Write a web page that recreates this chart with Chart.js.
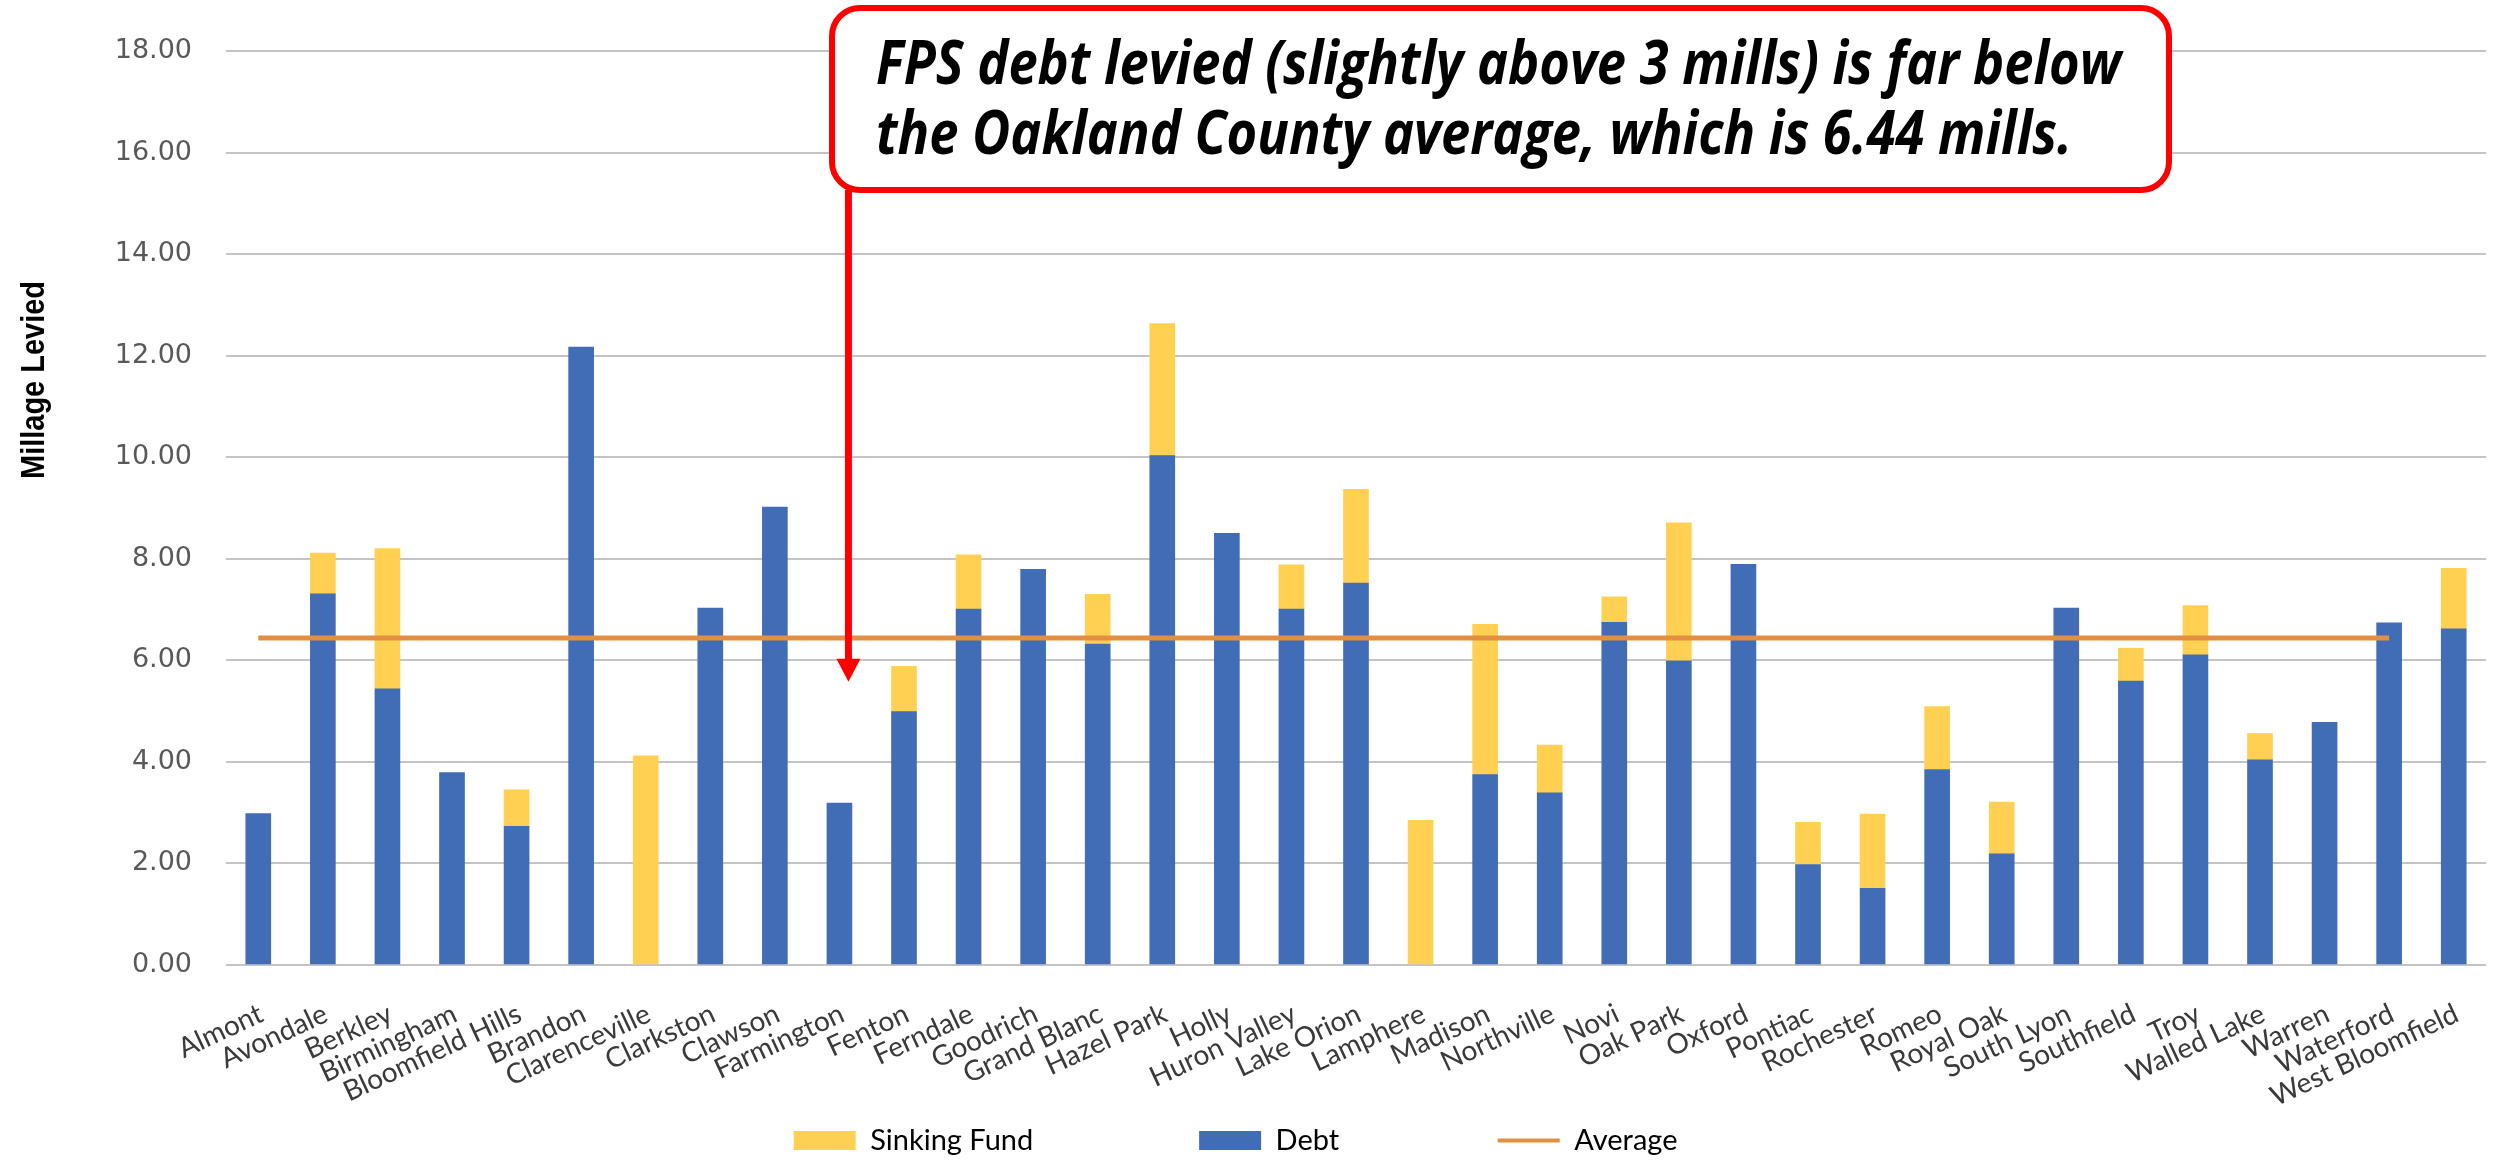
<!DOCTYPE html>
<html>
<head>
<meta charset="utf-8">
<title>Millage Levied</title>
<script src="https://cdn.jsdelivr.net/npm/chart.js@4.4.1/dist/chart.umd.min.js"></script>
<style>
  html, body { margin: 0; padding: 0; background: #ffffff; }
  #wrap { width: 2497px; height: 1165px; }
</style>
</head>
<body>
<div id="wrap"><canvas id="millageChart" width="2497" height="1165"></canvas></div>
<script>
// districts along the x axis
var districts = ["Almont", "Avondale", "Berkley", "Birmingham", "Bloomfield Hills", "Brandon",
    "Clarenceville", "Clarkston", "Clawson", "Farmington", "Fenton", "Ferndale", "Goodrich",
    "Grand Blanc", "Hazel Park", "Holly", "Huron Valley", "Lake Orion", "Lamphere", "Madison",
    "Northville", "Novi", "Oak Park", "Oxford", "Pontiac", "Rochester", "Romeo", "Royal Oak",
    "South Lyon", "Southfield", "Troy", "Walled Lake", "Warren", "Waterford", "West Bloomfield"];

// mills
var debt = [2.98, 7.31, 5.44, 3.79, 2.73, 12.17, null, 7.03, 9.02, 3.19, 4.99, 7.01, 7.79,
    6.32, 10.03, 8.50, 7.01, 7.52, null, 3.75, 3.39, 6.75, 5.99, 7.89, 1.98, 1.51, 3.85, 2.19,
    7.03, 5.59, 6.11, 4.04, 4.78, 6.74, 6.62];
var sinkingFund = [null, 0.80, 2.76, null, 0.72, null, 4.12, null, null, null, 0.89, 1.07, null,
    0.98, 2.60, null, 0.87, 1.85, 2.85, 2.96, 0.94, 0.50, 2.72, null, 0.83, 1.46, 1.24, 1.02,
    null, 0.65, 0.97, 0.52, null, null, 1.19];
var average = [6.44, 6.44, 6.44, 6.44, 6.44, 6.44, 6.44, 6.44, 6.44, 6.44, 6.44, 6.44, 6.44,
    6.44, 6.44, 6.44, 6.44, 6.44, 6.44, 6.44, 6.44, 6.44, 6.44, 6.44, 6.44, 6.44, 6.44, 6.44,
    6.44, 6.44, 6.44, 6.44, 6.44, 6.44, null];

var yTickValues = [0, 2, 4, 6, 8, 10, 12, 14, 16, 18];

var blue = '#416db6';
var yellow = '#ffd052';
var orange = '#e38f41';

var calloutLines = ["FPS debt levied (slightly above 3 mills) is far below",
    "the Oakland County average, which is 6.44 mills."];

// y title and the red callout box with its arrow
var extrasPlugin = {
    id: 'extras',
    afterDraw: function (chart) {
        var ctx = chart.ctx;
        var xs = chart.scales.x, ys = chart.scales.y;

        // axis title
        ctx.save();
        ctx.translate(35, 380);
        ctx.rotate(-Math.PI / 2);
        ctx.font = 'bold 34px "Liberation Sans"';
        var tw = ctx.measureText('Millage Levied').width;
        ctx.scale(198 / tw, 1);
        ctx.fillStyle = '#000000';
        ctx.textAlign = 'center';
        ctx.textBaseline = 'middle';
        ctx.fillText('Millage Levied', 0, 0);
        ctx.restore();

        // arrow to Farmington
        var ax = xs.getPixelForValue(9) + 9;
        var tipY = ys.getPixelForValue(5.58);
        var boxL = 832, boxT = 8, boxR = 2169, boxB = 190, r = 28;
        ctx.save();
        ctx.strokeStyle = '#ff0000';
        ctx.fillStyle = '#ff0000';
        ctx.lineWidth = 7;
        ctx.beginPath();
        ctx.moveTo(ax, boxB);
        ctx.lineTo(ax, tipY - 20);
        ctx.stroke();
        ctx.beginPath();
        ctx.moveTo(ax - 12, tipY - 23);
        ctx.lineTo(ax + 12, tipY - 23);
        ctx.lineTo(ax, tipY);
        ctx.closePath();
        ctx.fill();

        // box
        ctx.beginPath();
        ctx.moveTo(boxL + r, boxT);
        ctx.lineTo(boxR - r, boxT);
        ctx.arcTo(boxR, boxT, boxR, boxT + r, r);
        ctx.lineTo(boxR, boxB - r);
        ctx.arcTo(boxR, boxB, boxR - r, boxB, r);
        ctx.lineTo(boxL + r, boxB);
        ctx.arcTo(boxL, boxB, boxL, boxB - r, r);
        ctx.lineTo(boxL, boxT + r);
        ctx.arcTo(boxL, boxT, boxL + r, boxT, r);
        ctx.closePath();
        ctx.fillStyle = '#ffffff';
        ctx.fill();
        ctx.lineWidth = 6;
        ctx.stroke();

        // text
        ctx.font = 'italic bold 60px "Open Sans"';
        var sx = 1245 / ctx.measureText(calloutLines[0]).width;
        ctx.fillStyle = '#000000';
        ctx.textAlign = 'left';
        ctx.textBaseline = 'alphabetic';
        ctx.save();
        ctx.translate(876, 84);
        ctx.scale(sx, 1);
        ctx.fillText(calloutLines[0], 0, 0);
        ctx.restore();
        ctx.save();
        ctx.translate(876, 154);
        ctx.scale(sx, 1);
        ctx.fillText(calloutLines[1], 0, 0);
        ctx.restore();
        ctx.restore();
    }
};

var legendFontSize = 29;

// category label size so that "West Bloomfield" runs about 205px, as in the picture
var probe = document.createElement('canvas').getContext('2d');
probe.font = '26px Lato';
var labelFontSize = Math.round(26 * 205 / probe.measureText('West Bloomfield').width * 2) / 2;

var ctxM = document.getElementById('millageChart');
var millageChart = new Chart(ctxM, {
    type: 'bar',
    data: {
        labels: districts,
        datasets: [{
                type: 'line',
                label: 'Average',
                data: average,
                borderColor: orange,
                backgroundColor: orange,
                borderWidth: 5,
                pointRadius: 0,
                stack: 'avg',
                fill: false
            },
            {
                label: 'Debt',
                data: debt,
                backgroundColor: blue,
                stack: 'levy',
                barThickness: 25
            },
            {
                label: 'Sinking Fund',
                data: sinkingFund,
                backgroundColor: yellow,
                stack: 'levy',
                barThickness: 25
            }
        ]
    },
    options: {
        responsive: false,
        devicePixelRatio: 1,
        animation: false,
        layout: {
            padding: { left: 0, right: 11, top: 51, bottom: 0 }
        },
        scales: {
            x: {
                stacked: true,
                grid: { display: false },
                border: { display: false },
                ticks: {
                    autoSkip: false,
                    minRotation: 25,
                    maxRotation: 25,
                    padding: 24,
                    labelOffset: 3,
                    color: '#3a3a3a',
                    font: { family: 'Lato', size: labelFontSize }
                },
                afterFit: function (scale) { scale.height = 151; }
            },
            y: {
                stacked: true,
                min: 0,
                max: 18,
                afterBuildTicks: function (scale) {
                    scale.ticks = yTickValues.map(function (v) { return { value: v }; });
                },
                grid: { color: '#c4c4c4', lineWidth: 2, drawTicks: false },
                border: { display: false },
                ticks: {
                    padding: 34,
                    color: '#595959',
                    font: { family: 'DejaVu Sans', size: 27 },
                    callback: function (v) { return Number(v).toFixed(2); }
                },
                afterFit: function (scale) { scale.width = 226; }
            }
        },
        plugins: {
            tooltip: { enabled: false },
            legend: {
                position: 'bottom',
                labels: {
                    usePointStyle: true,
                    pointStyleWidth: 62,
                    boxHeight: 19,
                    padding: 10,
                    color: '#262626',
                    font: { family: 'Lato', size: legendFontSize },
                    generateLabels: function (chart) {
                        var c = chart.ctx;
                        c.save();
                        c.font = legendFontSize + 'px Lato';
                        var sp = c.measureText(' ').width;
                        // trailing spaces so each entry takes the pitch seen in the picture
                        function pad(text, pitch) {
                            var used = 62 + legendFontSize / 2 + c.measureText(text).width + 10;
                            return text + ' '.repeat(Math.max(0, Math.round((pitch - used) / sp)));
                        }
                        var items = [
                            { text: pad('Sinking Fund', 407), fillStyle: yellow, strokeStyle: yellow, lineWidth: 0, pointStyle: 'rect', datasetIndex: 2, hidden: false },
                            { text: pad('Debt', 296), fillStyle: blue, strokeStyle: blue, lineWidth: 0, pointStyle: 'rect', datasetIndex: 1, hidden: false },
                            { text: 'Average' + ' '.repeat(Math.round(16 / sp)), fillStyle: orange, strokeStyle: orange, lineWidth: 4, pointStyle: 'line', datasetIndex: 0, hidden: false }
                        ];
                        c.restore();
                        return items;
                    }
                }
            }
        }
    },
    plugins: [extrasPlugin]
});
</script>
</body>
</html>
